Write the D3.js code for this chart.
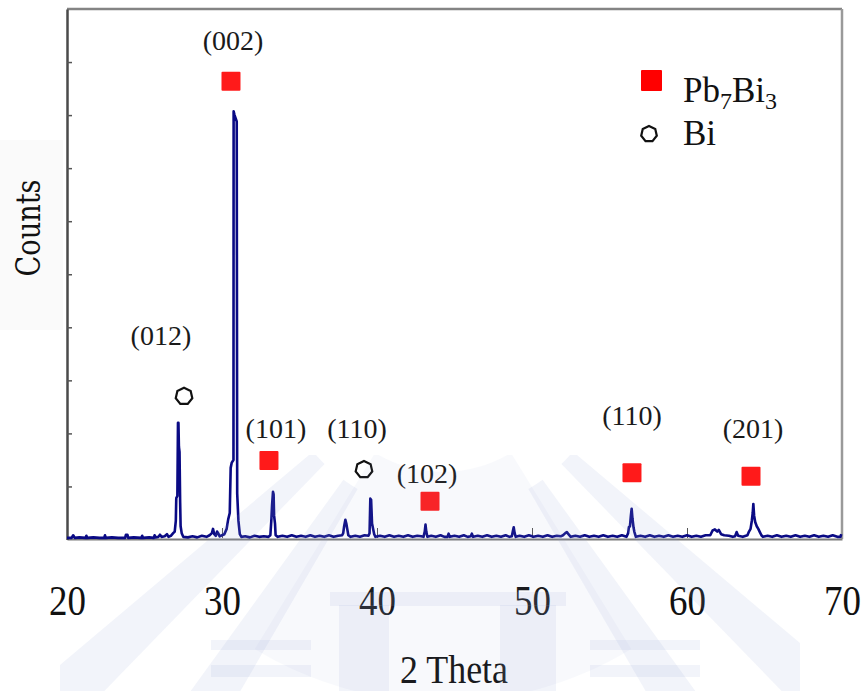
<!DOCTYPE html>
<html>
<head>
<meta charset="utf-8">
<script src="https://cdn.jsdelivr.net/npm/d3@7"></script>
<style>
  body { margin: 0; background: #ffffff; }
  svg { display: block; }
</style>
</head>
<body>
<svg id="chart" width="866" height="691"></svg>
<script>
// XRD pattern: diffraction angle (2θ, degrees) and intensity (arbitrary units)
const twoTheta = [
  20.0, 20.3, 20.4, 20.5, 20.8, 21.2, 21.25, 21.3, 21.7, 22.1, 22.4, 22.45, 22.5, 22.9, 23.3, 23.75,
  23.8, 23.9, 23.95, 24.3, 24.8, 24.85, 24.9, 25.3, 25.6, 25.65, 25.7, 25.9, 26.0, 26.1, 26.3, 26.45,
  26.55, 26.7, 26.85, 26.95, 27.02, 27.05, 27.12, 27.16, 27.19, 27.22, 27.26, 27.3, 27.33, 27.4, 27.5,
  27.8, 28.1, 28.4, 28.7, 29.0, 29.2, 29.35, 29.42, 29.5, 29.6, 29.68, 29.75, 29.85, 30.0, 30.15, 30.3,
  30.4, 30.5, 30.56, 30.63, 30.74, 30.75, 30.81, 30.95, 30.98, 31.06, 31.15, 31.25, 31.5, 31.8, 32.1,
  32.4, 32.7, 33.0, 33.12, 33.18, 33.23, 33.29, 33.33, 33.36, 33.42, 33.46, 33.6, 33.9, 34.2, 34.5,
  34.8, 35.1, 35.4, 35.7, 36.0, 36.3, 36.6, 36.9, 37.2, 37.5, 37.75, 37.82, 37.88, 37.96, 38.02, 38.08,
  38.15, 38.3, 38.6, 38.9, 39.2, 39.45, 39.52, 39.57, 39.62, 39.68, 39.75, 39.82, 39.9, 40.2, 40.5,
  40.8, 41.1, 41.4, 41.7, 42.0, 42.3, 42.6, 42.85, 43.0, 43.08, 43.13, 43.18, 43.25, 43.5, 43.8, 44.1,
  44.35, 44.55, 44.62, 44.7, 45.0, 45.3, 45.6, 45.85, 46.05, 46.12, 46.2, 46.5, 46.8, 47.1, 47.4, 47.7,
  48.0, 48.3, 48.55, 48.7, 48.78, 48.82, 48.88, 48.95, 49.2, 49.5, 49.8, 50.1, 50.4, 50.7, 51.0, 51.3,
  51.6, 51.85, 52.0, 52.15, 52.25, 52.35, 52.5, 52.8, 53.1, 53.4, 53.7, 54.0, 54.3, 54.6, 54.9, 55.2,
  55.5, 55.8, 56.1, 56.2, 56.25, 56.32, 56.38, 56.43, 56.48, 56.55, 56.6, 56.7, 57.0, 57.3, 57.6, 57.9,
  58.2, 58.5, 58.8, 59.1, 59.4, 59.7, 60.0, 60.3, 60.6, 60.9, 61.2, 61.5, 61.65, 61.8, 61.95, 62.05,
  62.2, 62.4, 62.7, 62.95, 63.1, 63.2, 63.3, 63.6, 63.9, 64.0, 64.1, 64.18, 64.24, 64.28, 64.33, 64.4,
  64.5, 64.6, 64.7, 64.8, 64.9, 65.2, 65.5, 65.8, 66.1, 66.4, 66.7, 67.0, 67.3, 67.6, 67.9, 68.2, 68.5,
  68.8, 69.1, 69.4, 69.7, 69.9, 69.95
];
const counts = [
  0.03, 0.03, 0.08, 0.03, 0.04, 0.03, 0.07, 0.03, 0.04, 0.03, 0.03, 0.08, 0.03, 0.04, 0.03, 0.03,
  0.09, 0.09, 0.03, 0.04, 0.03, 0.07, 0.03, 0.04, 0.03, 0.08, 0.04, 0.05, 0.09, 0.05, 0.06, 0.10,
  0.05, 0.07, 0.12, 0.15, 0.35, 0.78, 0.82, 2.20, 2.20, 1.75, 1.65, 0.70, 0.25, 0.12, 0.05,
  0.04, 0.06, 0.04, 0.07, 0.05, 0.08, 0.12, 0.20, 0.10, 0.07, 0.15, 0.12, 0.06, 0.08, 0.10, 0.20,
  0.38, 0.50, 1.35, 1.45, 1.50, 8.07, 8.00, 7.88, 0.87, 0.35, 0.10, 0.05, 0.06, 0.04, 0.07,
  0.05, 0.06, 0.05, 0.08, 0.35, 0.65, 0.90, 0.85, 0.45, 0.30, 0.08, 0.05, 0.07, 0.05, 0.08,
  0.05, 0.07, 0.05, 0.08, 0.05, 0.07, 0.05, 0.08, 0.05, 0.07, 0.08, 0.12, 0.25, 0.37, 0.30, 0.20,
  0.08, 0.05, 0.07, 0.05, 0.08, 0.07, 0.12, 0.77, 0.75, 0.30, 0.20, 0.10, 0.05, 0.07, 0.05,
  0.08, 0.05, 0.07, 0.05, 0.08, 0.05, 0.07, 0.06, 0.05, 0.15, 0.28, 0.15, 0.05, 0.07, 0.05, 0.08,
  0.05, 0.05, 0.11, 0.05, 0.07, 0.05, 0.08, 0.05, 0.06, 0.11, 0.05, 0.07, 0.05, 0.08, 0.05, 0.07,
  0.05, 0.08, 0.05, 0.06, 0.18, 0.23, 0.12, 0.05, 0.07, 0.05, 0.08, 0.05, 0.07, 0.05, 0.08, 0.05,
  0.07, 0.06, 0.08, 0.12, 0.14, 0.10, 0.05, 0.07, 0.05, 0.08, 0.05, 0.07, 0.05, 0.08, 0.05, 0.07,
  0.05, 0.08, 0.05, 0.12, 0.23, 0.25, 0.45, 0.58, 0.40, 0.23, 0.15, 0.05, 0.07, 0.05, 0.08, 0.05,
  0.07, 0.05, 0.08, 0.05, 0.07, 0.05, 0.08, 0.05, 0.07, 0.05, 0.08, 0.08, 0.17, 0.19, 0.15, 0.18,
  0.10, 0.08, 0.07, 0.05, 0.06, 0.14, 0.07, 0.05, 0.08, 0.15, 0.20, 0.35, 0.50, 0.67, 0.45, 0.33,
  0.25, 0.20, 0.14, 0.08, 0.05, 0.07, 0.05, 0.08, 0.05, 0.07, 0.05, 0.08, 0.05, 0.07, 0.05, 0.08, 0.05,
  0.07, 0.05, 0.08, 0.05, 0.05, 0.10
];
const xTickValues = [20, 30, 40, 50, 60, 70];
const yTickValues = [1, 2, 3, 4, 5, 6, 7, 8, 9];

// Miller-index annotations (anchored at text baseline, data units)
const hklLabels = ["(002)", "(012)", "(101)", "(110)", "(102)", "(110)", "(201)"];
const hklTheta  = [30.71, 26.06, 33.48, 38.71, 43.23, 56.45, 64.26];
const hklCount  = [9.23, 3.66, 1.91, 1.91, 1.06, 2.15, 1.91];

// Phase markers
const pbTheta = [30.58, 33.03, 43.42, 56.45, 64.13];
const pbCount = [8.64, 1.49, 0.72, 1.26, 1.19];
const biTheta = [27.55, 39.16];
const biCount = [2.70, 1.32];

const phaseNames = ["Pb7Bi3", "Bi"];

const svg = d3.select("#chart");
const x = d3.scaleLinear().domain([20, 70]).range([67, 842]);
const y = d3.scaleLinear().domain([0, 10]).range([539.5, 9]);

const serif = "'Liberation Serif', 'Times New Roman', serif";

// very faint grey panel behind the y-axis title
svg.append("rect").attr("x", 0).attr("y", 140).attr("width", 63).attr("height", 190)
  .attr("fill", "#fafafa");

// plot frame (top and right borders)
svg.append("line").attr("x1", x(20)).attr("x2", x(70)).attr("y1", y(10)).attr("y2", y(10))
  .attr("stroke", "#848484").attr("stroke-width", 2.5);
svg.append("line").attr("x1", x(70)).attr("x2", x(70)).attr("y1", y(10)).attr("y2", 539)
  .attr("stroke", "#9a9a9a").attr("stroke-width", 2.5);

// bottom axis: inward ticks, labels well below the frame
const xAxis = d3.axisBottom(x).tickValues(xTickValues).tickSize(0).tickPadding(46)
  .tickFormat(d3.format("d"));
const gx = svg.append("g").attr("transform", "translate(0,539)").call(xAxis);
gx.select(".domain").attr("stroke", "#7a7a7a").attr("stroke-width", 2);
gx.selectAll(".tick text").attr("font-family", serif).attr("font-size", 42)
  .attr("transform", "scale(0.88,1)").attr("fill", "#111");
gx.selectAll(".tick").filter(d => d > 20 && d < 70).append("line")
  .attr("y1", -1).attr("y2", -11).attr("stroke", "#555").attr("stroke-width", 1);

// left axis: short inward ticks, no labels
const yAxis = d3.axisLeft(y).tickValues(yTickValues).tickSizeInner(-5).tickSizeOuter(0)
  .tickFormat("");
const gy = svg.append("g").attr("transform", `translate(${x(20)},0)`).call(yAxis);
gy.select(".domain").attr("stroke", "#4a4a4a").attr("stroke-width", 2.5);
gy.selectAll(".tick line").attr("stroke", "#555").attr("stroke-width", 1.5);

// diffraction trace
const pts = twoTheta.map((t, i) => [t, counts[i]]);
svg.append("path").datum(pts)
  .attr("fill", "none").attr("stroke", "#0a0a84").attr("stroke-width", 2.6)
  .attr("stroke-linejoin", "round")
  .attr("d", d3.line().x(d => x(d[0])).y(d => y(d[1])));

// markers
const sq = 19;
svg.append("g").selectAll("rect").data(pbTheta).join("rect")
  .attr("x", (d, i) => x(d) - sq / 2).attr("y", (d, i) => y(pbCount[i]) - sq / 2)
  .attr("width", sq).attr("height", sq).attr("rx", 1).attr("fill", "#ff1a1a");

const hexPath = r => d3.line().curve(d3.curveLinearClosed)(
  d3.range(7).map(k => {
    const a = -Math.PI / 2 + k * 2 * Math.PI / 7;
    return [r * Math.cos(a), r * Math.sin(a)];
  }));
svg.append("g").selectAll("path").data(biTheta).join("path")
  .attr("transform", (d, i) => `translate(${x(d)},${y(biCount[i])})`)
  .attr("d", hexPath(8.5)).attr("fill", "none").attr("stroke", "#111").attr("stroke-width", 2.2);

// Miller-index labels
svg.append("g").selectAll("text").data(hklLabels).join("text")
  .attr("x", (d, i) => x(hklTheta[i])).attr("y", (d, i) => y(hklCount[i]))
  .attr("text-anchor", "middle").attr("font-family", serif).attr("font-size", 28)
  .attr("fill", "#1a1a1a").text(d => d);

// legend
const lg = svg.append("g");
lg.append("rect").attr("x", 641).attr("y", 70).attr("width", 21).attr("height", 21)
  .attr("rx", 1).attr("fill", "#ff0000");
const t1 = lg.append("text").attr("x", 683).attr("y", 102).attr("font-family", serif)
  .attr("font-size", 35).attr("fill", "#111");
t1.append("tspan").text("Pb");
t1.append("tspan").attr("font-size", 24).attr("dy", 7).text("7");
t1.append("tspan").attr("dy", -7).text("Bi");
t1.append("tspan").attr("font-size", 24).attr("dy", 7).text("3");
lg.append("path").attr("transform", "translate(649,134)").attr("d", hexPath(8))
  .attr("fill", "none").attr("stroke", "#111").attr("stroke-width", 2.2);
lg.append("text").attr("x", 683).attr("y", 145).attr("font-family", serif)
  .attr("font-size", 35).attr("fill", "#111").text(phaseNames[1]);

// axis titles
svg.append("text").attr("x", 454).attr("y", 683).attr("text-anchor", "middle")
  .attr("font-family", serif).attr("font-size", 40).attr("textLength", 108)
  .attr("lengthAdjust", "spacingAndGlyphs").attr("fill", "#111").text("2 Theta");
svg.append("text").attr("transform", "translate(40,228) rotate(-90)")
  .attr("text-anchor", "middle").attr("font-family", "'DejaVu Serif', serif")
  .attr("font-size", 34).attr("textLength", 97).attr("lengthAdjust", "spacingAndGlyphs")
  .attr("fill", "#111").text("Counts");

// faint emblem printed over the lower part of the page
svg.append("clipPath").attr("id", "wm-clip").append("rect")
  .attr("x", 60).attr("y", 455).attr("width", 740).attr("height", 240);
const wm = svg.append("g").attr("clip-path", "url(#wm-clip)")
  .attr("fill", "#9ea8da").attr("pointer-events", "none");
const cx = 443, cy = 342;
const arcGen = d3.arc();
wm.append("path").attr("transform", `translate(${cx},${cy})`).attr("opacity", 0.07)
  .attr("d", arcGen({ innerRadius: 130, outerRadius: 360,
                      startAngle: Math.PI - 0.55, endAngle: Math.PI + 0.55 }));
[-47, -33, 33, 47].forEach(deg => {
  const a = Math.PI - deg * Math.PI / 180;
  wm.append("path").attr("transform", `translate(${cx},${cy})`).attr("opacity", 0.13)
    .attr("d", arcGen({ innerRadius: 170, outerRadius: 520,
                        startAngle: a - 0.05, endAngle: a + 0.05 }));
});
// gate outline at the bottom centre
[[339, 605, 50, 86], [500, 605, 56, 86], [330, 592, 236, 14],
 [211, 640, 100, 10], [211, 665, 100, 12], [590, 640, 110, 10], [590, 665, 110, 12]]
  .forEach(r => wm.append("rect").attr("x", r[0]).attr("y", r[1])
    .attr("width", r[2]).attr("height", r[3]).attr("opacity", 0.13));
</script>
</body>
</html>
